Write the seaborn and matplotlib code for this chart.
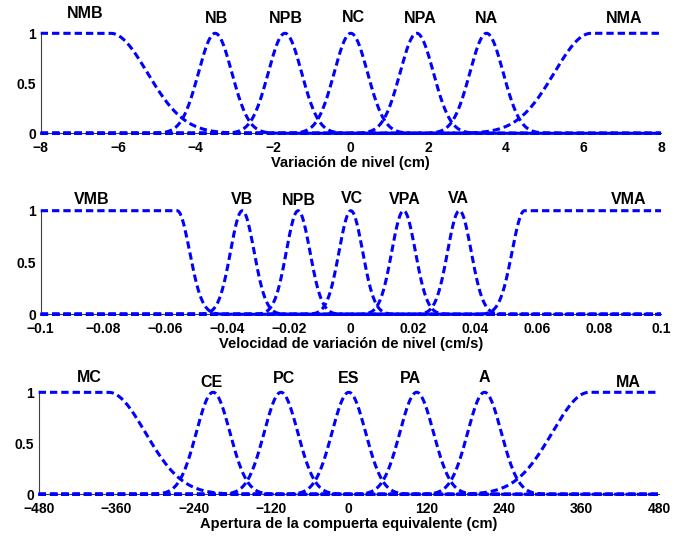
import numpy as np
import pandas as pd
import matplotlib
matplotlib.use('Agg')
import matplotlib.pyplot as plt
import seaborn as sns

sns.set_style('white')
plt.rcParams['font.family'] = ['Liberation Sans', 'DejaVu Sans']
plt.rcParams['font.weight'] = 'bold'
plt.rcParams['axes.labelweight'] = 'bold'
plt.rcParams['text.color'] = 'black'
plt.rcParams['axes.labelcolor'] = 'black'
plt.rcParams['xtick.labelcolor'] = 'black'
plt.rcParams['ytick.labelcolor'] = 'black'

# --- Variación de nivel (cm) ---
nivel_labels = ["NMB", "NB", "NPB", "NC", "NPA", "NA", "NMA"]
nivel_centers = [-6.2, -3.5, -1.7, 0.0, 1.7, 3.5, 6.2]
nivel_sigma = [0.95, 0.43, 0.43, 0.43, 0.43, 0.43, 0.95]
nivel_label_x = [-6.85, -3.47, -1.67, 0.06, 1.78, 3.51, 7.04]
nivel_label_y = [1.12, 1.07, 1.07, 1.08, 1.07, 1.07, 1.07]
nivel_xticks = [-8, -6, -4, -2, 0, 2, 4, 6, 8]

# --- Velocidad de variación de nivel (cm/s) ---
vel_labels = ["VMB", "VB", "NPB", "VC", "VPA", "VA", "VMA"]
vel_centers = [-0.056, -0.035, -0.017, 0.0, 0.017, 0.035, 0.056]
vel_sigma = [0.0040, 0.0038, 0.0038, 0.0038, 0.0038, 0.0038, 0.0040]
vel_label_x = [-0.0836, -0.035, -0.0167, 0.0005, 0.0173, 0.0348, 0.0895]
vel_label_y = [1.04, 1.04, 1.03, 1.05, 1.04, 1.05, 1.04]
vel_xticks = [-0.1, -0.08, -0.06, -0.04, -0.02, 0, 0.02, 0.04, 0.06, 0.08, 0.1]

# --- Apertura de la compuerta equivalente (cm) ---
ap_labels = ["MC", "CE", "PC", "ES", "PA", "A", "MA"]
ap_centers = [-372, -210, -105, 0, 105, 210, 372]
ap_sigma = [57, 26, 26, 26, 26, 26, 57]
ap_label_x = [-401, -213, -100, 0, 96, 209, 433]
ap_label_y = [1.07, 1.02, 1.06, 1.06, 1.06, 1.07, 1.02]
ap_xticks = [-480, -360, -240, -120, 0, 120, 240, 360, 480]

kinds = ["left", "gauss", "gauss", "gauss", "gauss", "gauss", "right"]


def membership(x, c, s, kind):
    g = np.exp(-(x - c) ** 2 / (2 * s ** 2))
    if kind == "left":
        g[x < c] = 1.0
    elif kind == "right":
        g[x > c] = 1.0
    return g


def fmt(v):
    return f"{v:g}".replace("-", "\u2212")


panels = [
    (nivel_labels, nivel_centers, nivel_sigma, nivel_label_x, nivel_label_y,
     nivel_xticks, "Variación de nivel (cm)", [0.0597, 0.7513, 0.9095, 0.1866]),
    (vel_labels, vel_centers, vel_sigma, vel_label_x, vel_label_y,
     vel_xticks, "Velocidad de variación de nivel (cm/s)", [0.0597, 0.4136, 0.9095, 0.1933]),
    (ap_labels, ap_centers, ap_sigma, ap_label_x, ap_label_y,
     ap_xticks, "Apertura de la compuerta equivalente (cm)", [0.0567, 0.0778, 0.9095, 0.1903]),
]

fig = plt.figure(figsize=(6.82, 5.36), dpi=100)

for labels, centers, sigmas, lx, ly, xticks, xlabel, rect in panels:
    ax = fig.add_axes(rect)
    x = np.linspace(xticks[0], xticks[-1], 801)
    rows = []
    for name, c, s, k in zip(labels, centers, sigmas, kinds):
        rows.append(pd.DataFrame({"x": x, "mu": membership(x, c, s, k), "conjunto": name}))
    df = pd.concat(rows, ignore_index=True)

    sns.lineplot(data=df, x="x", y="mu", units="conjunto", estimator=None,
                 color="blue", linewidth=2.2, linestyle=(0, (2.4, 1.3)),
                 clip_on=False, zorder=3, ax=ax)

    for name, tx, ty in zip(labels, lx, ly):
        ax.text(tx, ty, name, ha="center", va="bottom", fontsize=11.5,
                fontweight="bold", color="black", clip_on=False)

    ax.set_xlim(xticks[0], xticks[-1])
    ax.set_ylim(0, 1)
    ax.set_xticks(xticks)
    ax.set_xticklabels([fmt(v) for v in xticks])
    ax.set_yticks([0, 0.5, 1])
    ax.set_yticklabels(["0", "0.5", "1"])
    ax.set_ylabel("")
    ax.set_xlabel(xlabel, fontsize=10.5, fontweight="bold", color="black", labelpad=1)
    ax.tick_params(direction="in", length=3, width=0.8, color="#808080",
                   labelsize=10, labelcolor="black")
    ax.tick_params(axis="x", pad=5.5)
    ax.tick_params(axis="y", pad=3.5)
    sns.despine(ax=ax)
    for sp in ["left", "bottom"]:
        ax.spines[sp].set_color("#404040")
        ax.spines[sp].set_linewidth(0.8)

fig.savefig("out.png", dpi=100)
